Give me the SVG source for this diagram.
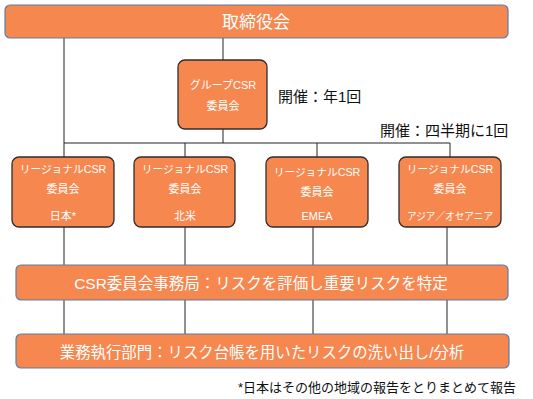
<svg xmlns="http://www.w3.org/2000/svg" width="533" height="399" viewBox="0 0 533 399">
<style>
.bar{fill:#F5874F;stroke:#5B7FA8;stroke-width:1.2}
.box{fill:#F5874F;stroke:#2E2E2E;stroke-width:1.3}
.wt{fill:#FFFFFF;font-family:"Liberation Sans","Noto Sans CJK JP",sans-serif;text-anchor:middle;dominant-baseline:central}
.bk{fill:#111;font-family:"Liberation Sans","Noto Sans CJK JP",sans-serif;font-size:15px;dominant-baseline:central}
.ln{stroke:#222;stroke-width:1;fill:none}
</style>
<g id="connectors">
<line class="ln" x1="64" y1="38" x2="64" y2="157"/>
<line class="ln" x1="223" y1="38" x2="223" y2="60"/>
<line class="ln" x1="223" y1="129" x2="223" y2="143"/>
<line class="ln" x1="64" y1="143" x2="450" y2="143"/>
<line class="ln" x1="185" y1="143" x2="185" y2="157"/>
<line class="ln" x1="317" y1="143" x2="317" y2="157"/>
<line class="ln" x1="450" y1="143" x2="450" y2="157"/>
<line class="ln" x1="64" y1="227" x2="64" y2="334"/>
<line class="ln" x1="185" y1="227" x2="185" y2="334"/>
<line class="ln" x1="313" y1="227" x2="313" y2="334"/>
<line class="ln" x1="447" y1="227" x2="447" y2="334"/>
</g>
<g id="board">
<rect class="bar" x="5" y="5" width="503" height="33" rx="5"/>
<text class="wt" x="256" y="22" font-size="17">取締役会</text>
</g>
<g id="group-csr">
<rect class="box" x="178" y="60" width="89" height="69" rx="7"/>
<text class="wt" x="223" y="85" font-size="11">グループCSR</text>
<text class="wt" x="223" y="106" font-size="11">委員会</text>
</g>
<text class="bk" x="278" y="96">開催：年1回</text>
<text class="bk" x="380" y="130">開催：四半期に1回</text>
<g id="regional-japan">
<rect class="box" x="12" y="157" width="102" height="70" rx="7"/>
<text class="wt" x="63" y="169" font-size="10.7">リージョナルCSR</text>
<text class="wt" x="63" y="189" font-size="11">委員会</text>
<text class="wt" x="63" y="216" font-size="11">日本*</text>
</g>
<g id="regional-na">
<rect class="box" x="134" y="157" width="101" height="70" rx="7"/>
<text class="wt" x="185" y="169" font-size="10.7">リージョナルCSR</text>
<text class="wt" x="185" y="189" font-size="11">委員会</text>
<text class="wt" x="185" y="216" font-size="11">北米</text>
</g>
<g id="regional-emea">
<rect class="box" x="266" y="157" width="102" height="70" rx="7"/>
<text class="wt" x="317" y="172" font-size="10.7">リージョナルCSR</text>
<text class="wt" x="317" y="192" font-size="11">委員会</text>
<text class="wt" x="317" y="216" font-size="11">EMEA</text>
</g>
<g id="regional-apac">
<rect class="box" x="399" y="157" width="102" height="70" rx="7"/>
<text class="wt" x="450" y="169" font-size="10.7">リージョナルCSR</text>
<text class="wt" x="450" y="189" font-size="11">委員会</text>
<text class="wt" x="450" y="216" font-size="10.5" textLength="86" lengthAdjust="spacingAndGlyphs">アジア／オセアニア</text>
</g>
<g id="csr-secretariat">
<rect class="bar" x="16" y="265" width="492" height="35" rx="5"/>
<text class="wt" x="261" y="283" font-size="15.5">CSR委員会事務局：リスクを評価し重要リスクを特定</text>
</g>
<g id="business-div">
<rect class="bar" x="16" y="334" width="493" height="34" rx="5"/>
<text class="wt" x="262" y="352" font-size="15.4">業務執行部門：リスク台帳を用いたリスクの洗い出し/分析</text>
</g>
<text class="bk" x="516" y="387" style="font-size:13px" text-anchor="end">*日本はその他の地域の報告をとりまとめて報告</text>
</svg>
